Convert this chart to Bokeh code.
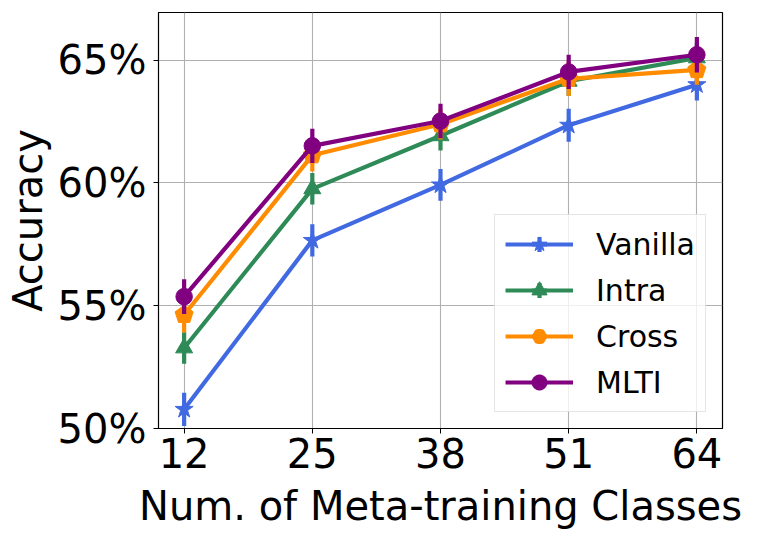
from bokeh.plotting import figure
from bokeh.models import (ColumnDataSource, FixedTicker, PrintfTickFormatter,
                          Range1d, Legend, LegendItem)
from bokeh.embed import file_html
from bokeh.resources import INLINE

try:
    from bokeh.models import Ngon
except Exception:
    Ngon = None

classes = [12, 25, 38, 51, 64]
vanilla = [50.78, 57.66, 59.92, 62.35, 64.00]
vanilla_err = [0.68, 0.66, 0.65, 0.67, 0.64]
intra = [53.28, 59.76, 61.92, 64.14, 65.09]
intra_err = [0.64, 0.64, 0.60, 0.60, 0.60]
cross = [54.63, 61.13, 62.39, 64.24, 64.60]
cross_err = [0.72, 0.66, 0.62, 0.70, 0.60]
mlti = [55.37, 61.51, 62.52, 64.52, 65.22]
mlti_err = [0.71, 0.70, 0.70, 0.70, 0.72]
series_names = ["Vanilla", "Intra", "Cross", "MLTI"]
y_ticks = [50, 55, 60, 65]

FONT = "DejaVu Sans"

p = figure(width=745, height=531, output_backend="svg", toolbar_location=None,
           x_range=Range1d(9.4, 66.6), y_range=Range1d(50, 66.94),
           min_border_left=158, min_border_right=23, min_border_top=12,
           min_border_bottom=100)

p.xaxis.ticker = FixedTicker(ticks=classes)
p.yaxis.ticker = FixedTicker(ticks=y_ticks)
p.yaxis.formatter = PrintfTickFormatter(format="%d%%")
p.xaxis.axis_label = "Num. of Meta-training Classes"
p.yaxis.axis_label = "Accuracy"
for ax in (p.xaxis, p.yaxis):
    ax.axis_label_text_font = FONT
    ax.axis_label_text_font_size = "40px"
    ax.axis_label_text_font_style = "normal"
    ax.axis_label_text_color = "black"
    ax.major_label_text_font = FONT
    ax.major_label_text_font_size = "40px"
    ax.major_label_text_color = "black"
    ax.minor_tick_line_color = None
    ax.major_tick_in = 0
    ax.major_tick_out = 5
    ax.axis_line_color = "black"
    ax.major_tick_line_color = "black"
p.yaxis.major_label_standoff = 7
p.xaxis.major_label_standoff = 4
p.xaxis.axis_label_standoff = 12
p.yaxis.axis_label_standoff = 4

p.grid.grid_line_color = "#b0b0b0"
p.grid.grid_line_width = 1.1
p.outline_line_color = "black"
p.outline_line_width = 1.2

data = [
    ("Vanilla", vanilla, vanilla_err, "#4169E1", "star"),
    ("Intra", intra, intra_err, "#2E8B57", "triangle"),
    ("Cross", cross, cross_err, "#FF8C00", "pentagon"),
    ("MLTI", mlti, mlti_err, "#800080", "circle"),
]

items = []
for name, vals, errs, color, marker in data:
    src = ColumnDataSource(dict(
        x=classes, y=vals,
        lo=[v - e for v, e in zip(vals, errs)],
        hi=[v + e for v, e in zip(vals, errs)],
    ))
    p.segment(x0="x", y0="lo", x1="x", y1="hi", source=src,
              line_color=color, line_width=4.2)
    ln = p.line("x", "y", source=src, line_color=color, line_width=4.2)
    helper = p.scatter("x", "y", source=src, marker="cross", size=0,
                       line_color=color, line_width=4.2)
    if marker == "pentagon":
        if Ngon is not None:
            g = Ngon(x="x", y="y", radius=9.5, radius_units="screen", n=5,
                     fill_color=color, line_color=color)
            p.add_glyph(src, g)
            lm = p.scatter("x", "y", source=src, marker="hex", size=0,
                           fill_color=color, line_color=color)
        else:
            lm = p.scatter("x", "y", source=src, marker="hex", size=17,
                           fill_color=color, line_color=color)
    else:
        sz = {"star": 19, "triangle": 17, "circle": 16.5}[marker]
        lm = p.scatter("x", "y", source=src, marker=marker, size=sz,
                       fill_color=color, line_color=color)
    items.append(LegendItem(label=name, renderers=[ln, helper, lm]))

legend = Legend(items=items, location="bottom_right",
                label_text_font=FONT, label_text_font_size="30px",
                label_text_color="black",
                glyph_width=68, glyph_height=38, label_height=36,
                spacing=8, padding=10, margin=16, label_standoff=23,
                border_line_color="#cccccc", border_line_width=1,
                background_fill_alpha=0.8)
p.add_layout(legend)

open("out.html", "w").write(file_html(p, INLINE))
